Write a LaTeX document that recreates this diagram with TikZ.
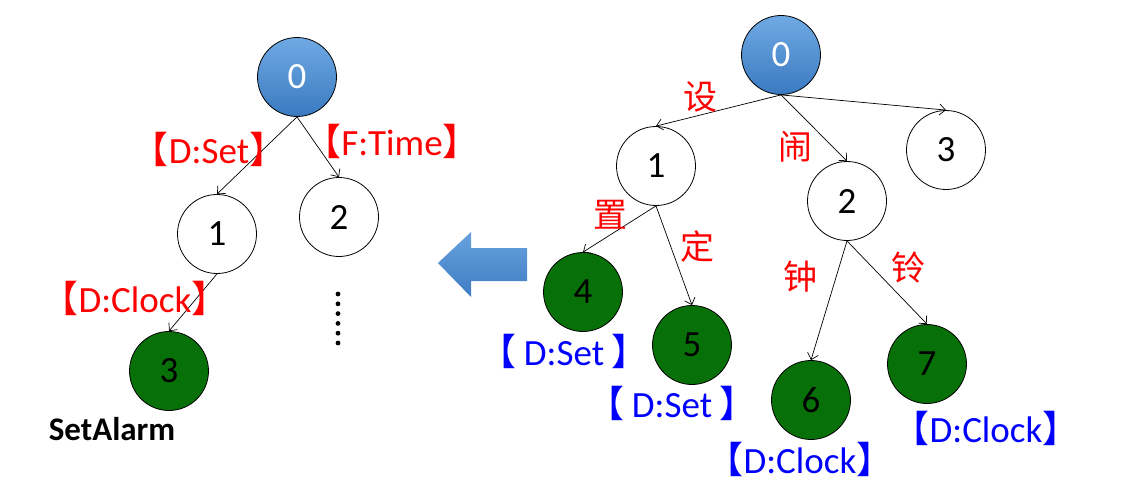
\documentclass[tikz,border=0pt]{standalone}
\usepackage{fontspec}
\setmainfont{Carlito}
\newfontfamily\cjk{Noto Sans CJK SC}
\usetikzlibrary{arrows.meta}

\definecolor{rootTop}{RGB}{112,170,228}
\definecolor{rootBot}{RGB}{58,122,192}
\definecolor{leafgreen}{RGB}{8,112,8}
\definecolor{arrowTop}{RGB}{104,162,222}
\definecolor{arrowBot}{RGB}{62,124,194}

\newcommand{\lbk}{{\cjk 【}}
\newcommand{\rbk}{{\cjk 】}}

\begin{document}
\begin{tikzpicture}[x=1pt, y=-1pt,
    state/.style={circle, draw, line width=0.8pt, minimum size=79pt, inner sep=0pt, font=\fontsize{37}{40}\selectfont},
    root/.style={state, top color=rootTop, bottom color=rootBot, text=white},
    leaf/.style={state, fill=leafgreen},
    edge/.style={-{Straight Barb[length=6pt, width=11pt]}, line width=0.7pt},
    tag/.style={anchor=base, inner sep=0pt, font=\fontsize{37}{40}\selectfont},
    cond/.style={tag, text=red},
    act/.style={tag, text=blue},
    word/.style={inner sep=0pt, text=red, font=\cjk\fontsize{34}{36}\selectfont}]

    \useasboundingbox (0,0) rectangle (1122,495);

    % left tree
    \node[root] (L0) at (297,77) {0};
    \node[state] (L1) at (217,234) {1};
    \node[state] (L2) at (339,217) {2};
    \node[leaf] (L3) at (169,371) {3};

    \draw[edge] (L0.south) -- (L1.north);
    \draw[edge] (L0.south) -- (L2.north);
    \draw[edge] (L1.south) -- (L3.north);

    \node[cond] (lset) at (209,163) {\lbk D:Set\rbk};
    \node[cond] (ltime) at (392,155) {\lbk F:Time\rbk};
    \node[cond] (lclock) at (135,312) {\lbk D:Clock\rbk};
    \node[anchor=base, inner sep=0pt, font=\bfseries\fontsize{33}{36}\selectfont] (name) at (112,440) {SetAlarm};

    \foreach \k in {0,...,5}
        \fill (338,{294+\k*9.8}) circle (2.4pt);

    % big arrow
    \shade[top color=arrowTop, bottom color=arrowBot]
        (438,263) -- (471,232) -- (471,248) -- (527,248) -- (527,281) -- (471,281) -- (471,297) -- cycle;

    % right tree
    \node[root] (R0) at (781,55) {0};
    \node[state] (R1) at (656,166) {1};
    \node[state] (R2) at (847,201) {2};
    \node[state] (R3) at (946,150) {3};
    \node[leaf] (R4) at (583,292) {4};
    \node[leaf] (R5) at (692,345) {5};
    \node[leaf] (R6) at (811,400) {6};
    \node[leaf] (R7) at (927,364) {7};

    \draw[edge] (R0.south) -- (R1.north);
    \draw[edge] (R0.south) -- (R2.north);
    \draw[edge] (R0.south) -- (R3.north);
    \draw[edge] (R1.south) -- (R4.north);
    \draw[edge] (R1.south) -- (R5.north);
    \draw[edge] (R2.south) -- (R6.north);
    \draw[edge] (R2.south) -- (R7.north);

    \node[word] (she) at (700,97) {设};
    \node[word] (nao) at (795,147) {闹};
    \node[word] (zhi) at (610,215) {置};
    \node[word] (ding) at (697,247) {定};
    \node[word] (zhong) at (800,277) {钟};
    \node[word] (ling) at (908,268) {铃};

    \node[act] (set4) at (564,365) {\lbk\hspace{0.2em}D:Set\hspace{0.2em}\rbk};
    \node[act] (set5) at (672,417) {\lbk\hspace{0.2em}D:Set\hspace{0.2em}\rbk};
    \node[act] (clock6) at (800,473) {\lbk D:Clock\rbk};
    \node[act] (clock7) at (986,442) {\lbk D:Clock\rbk};

\end{tikzpicture}
\end{document}
